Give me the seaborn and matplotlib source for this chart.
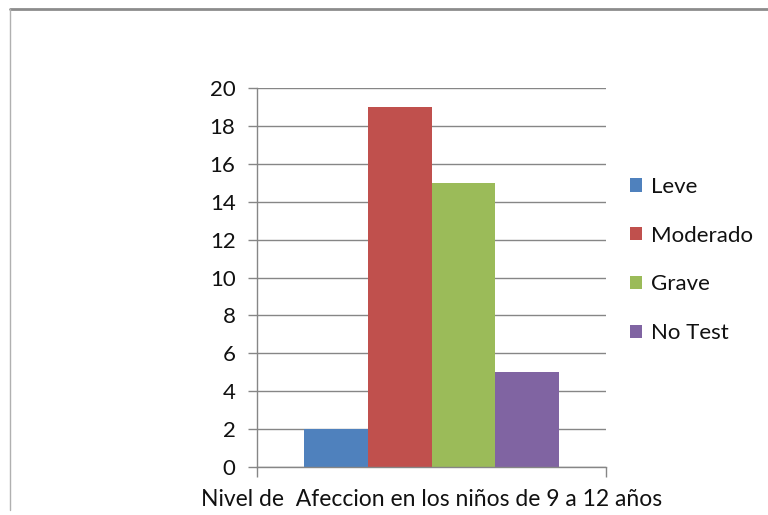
import pandas as pd
import matplotlib.pyplot as plt
import seaborn as sns
from matplotlib.lines import Line2D

categoria = "Nivel de  Afeccion en los niños de 9 a 12 años"
niveles = ["Leve", "Moderado", "Grave", "No Test"]
valores = [2, 19, 15, 5]
colores = ["#4F81BD", "#C0504D", "#9BBB59", "#8064A2"]

df = pd.DataFrame({"categoria": [categoria] * len(niveles),
                   "nivel": niveles,
                   "valor": valores})

sns.set_style("white")
plt.rcParams["font.family"] = ["Lato", "DejaVu Sans"]
plt.rcParams["font.size"] = 16

fig = plt.figure(figsize=(7.68, 5.15), dpi=100)
ax = fig.add_axes([257 / 768, 1 - 467 / 515, (606 - 257) / 768, (467 - 88) / 515])

sns.barplot(data=df, x="categoria", y="valor", hue="nivel",
            hue_order=niveles, palette=colores, width=0.728,
            gap=0, saturation=1, linewidth=0, ax=ax, legend=True)

gris = "#868686"
texto = "#111111"
ax.set_xlim(-0.5, 0.5)
ax.set_ylim(0, 20)
ax.set_yticks(range(0, 21, 2))
ax.yaxis.grid(True, color=gris, linewidth=1)
ax.set_axisbelow(True)
for s in ["top", "right"]:
    ax.spines[s].set_visible(False)
for s in ["left", "bottom"]:
    ax.spines[s].set_color(gris)
    ax.spines[s].set_linewidth(1)
ax.tick_params(axis="y", length=6.5, width=1, color=gris, pad=9,
               left=True, labelcolor=texto, labelsize=16)
ax.tick_params(axis="x", which="major", length=0, pad=16, labelcolor=texto,
               labelsize=16.5)
ax.set_xticks([-0.5, 0.5], minor=True)
ax.tick_params(axis="x", which="minor", length=7.5, width=1, color=gris,
               bottom=True)
ax.set_xlabel("")
ax.set_ylabel("")

handles, labels = ax.get_legend_handles_labels()
ax.get_legend().remove()
leg = fig.legend(handles, labels, loc="center left",
                 bbox_to_anchor=(610 / 768, 1 - 260 / 515),
                 frameon=False, handlelength=0.55, handleheight=0.55,
                 handletextpad=0.4, labelspacing=1.3, fontsize=16)
for t in leg.get_texts():
    t.set_color(texto)

# marco del gráfico (recortado)
fig.add_artist(Line2D([10 / 768, 1], [1 - 9 / 515, 1 - 9 / 515],
                      transform=fig.transFigure, color="#8c8c8c", linewidth=2))
fig.add_artist(Line2D([10 / 768, 10 / 768], [1 - 9 / 515, 0.01],
                      transform=fig.transFigure, color="#b0b0b0", linewidth=1))

fig.savefig("out.png", dpi=100)
